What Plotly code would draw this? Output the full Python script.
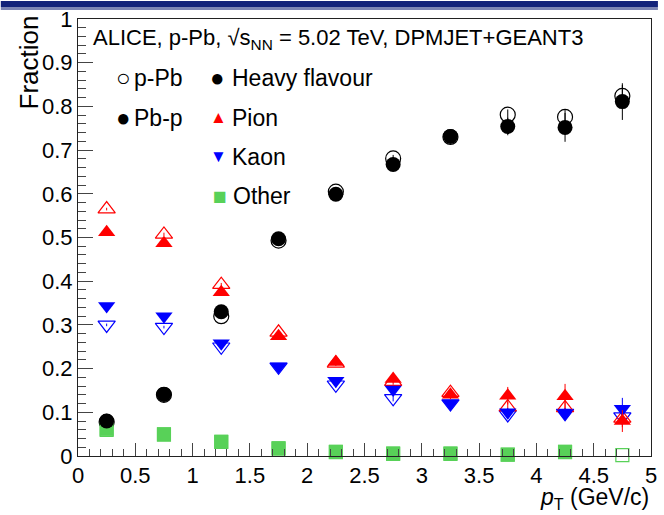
import plotly.graph_objects as go

pt = [0.25, 0.75, 1.25, 1.75, 2.25, 2.75, 3.25, 3.75, 4.25, 4.75]

hf_pbp = [0.080, 0.141, 0.330, 0.497, 0.599, 0.667, 0.731, 0.754, 0.752, 0.811]
hf_ppb = [0.078, 0.140, 0.320, 0.493, 0.605, 0.681, 0.730, 0.781, 0.776, 0.824]
hf_pbp_err = [0.003, 0.004, 0.005, 0.006, 0.007, 0.009, 0.012, 0.020, 0.033, 0.042]
hf_ppb_err = [0.003, 0.004, 0.005, 0.006, 0.007, 0.008, 0.010, 0.012, 0.018, 0.025]

pi_pbp = [0.512, 0.487, 0.375, 0.274, 0.215, 0.176, 0.140, 0.138, 0.137, 0.080]
pi_ppb = [0.565, 0.507, 0.392, 0.283, 0.212, 0.170, 0.145, 0.112, 0.110, 0.086]
pi_pbp_err = [0.003, 0.004, 0.004, 0.005, 0.006, 0.008, 0.010, 0.020, 0.028, 0.025]
pi_ppb_err = [0.003, 0.004, 0.004, 0.005, 0.006, 0.007, 0.009, 0.012, 0.016, 0.020]

k_pbp = [0.343, 0.320, 0.258, 0.205, 0.172, 0.152, 0.120, 0.100, 0.098, 0.108]
k_ppb = [0.300, 0.295, 0.250, 0.204, 0.163, 0.132, 0.120, 0.095, 0.098, 0.090]
k_pbp_err = [0.003, 0.003, 0.004, 0.005, 0.006, 0.007, 0.008, 0.010, 0.012, 0.025]
k_ppb_err = [0.003, 0.003, 0.004, 0.005, 0.006, 0.007, 0.008, 0.010, 0.012, 0.018]

oth_pbp = [0.062, 0.050, 0.033, 0.018, 0.010, 0.006, 0.006, 0.003, 0.010, None]
oth_ppb = [0.060, 0.049, 0.032, 0.017, 0.009, 0.005, 0.005, 0.003, 0.009, 0.002]

RED = "#ff0000"
BLUE = "#0000ff"
GREEN = "#58d158"
BLACK = "#000000"

fig = go.Figure()

def add(y, err, symbol, color, size, open_=False):
    fig.add_trace(go.Scatter(
        x=pt, y=y, mode="markers",
        marker=dict(symbol=symbol, size=size, color=color,
                    line=dict(width=1.2 if open_ else 0, color=color)),
        error_y=dict(type="data", array=err, visible=err is not None,
                     color=color, thickness=1, width=0),
        showlegend=False, cliponaxis=False))

# p-Pb (open) first, then Pb-p (filled) on top
add(oth_ppb, None, "square-open", GREEN, 13, True)
add(k_ppb, k_ppb_err, "triangle-down-open", BLUE, 15, True)
add(pi_ppb, pi_ppb_err, "triangle-up-open", RED, 15, True)
add(hf_ppb, hf_ppb_err, "circle-open", BLACK, 15, True)
add(oth_pbp, None, "square", GREEN, 14)
add(k_pbp, k_pbp_err, "triangle-down", BLUE, 15)
add(pi_pbp, pi_pbp_err, "triangle-up", RED, 15)
add(hf_pbp, hf_pbp_err, "circle", BLACK, 15)

FONT = "Liberation Sans, Arial, Helvetica, sans-serif"

W, H = 664, 515
ML, MR, MT, MB = 78, 7, 18, 59
PW, PH = W - ML - MR, H - MT - MB

def px(x):
    return (x - ML) / PW

def py(y):
    return 1 - (y - MT) / PH

anns = []
def txt(x, y, s, size=20, color="black", xanchor="left", yanchor="middle", angle=0):
    anns.append(dict(x=px(x), y=py(y), xref="paper", yref="paper", text=s,
                     showarrow=False, xanchor=xanchor, yanchor=yanchor,
                     textangle=angle, font=dict(family=FONT, size=size, color=color)))

txt(91, 38, "ALICE, p-Pb, √s<sub>NN</sub> = 5.02 TeV, DPMJET+GEANT3", size=22)
txt(124, 77, "○", size=24, xanchor="center")
txt(133, 77, "p-Pb", size=23)
txt(124, 117, "●", size=24, xanchor="center")
txt(133, 117, "Pb-p", size=23)
txt(219, 77, "●", size=24, xanchor="center")
txt(232, 77, "Heavy flavour", size=23)
txt(220, 117, "▲", size=17, color=RED, xanchor="center")
txt(232, 117, "Pion", size=23)
txt(220, 156, "▼", size=17, color=BLUE, xanchor="center")
txt(232, 156, "Kaon", size=23)
txt(221, 195, "■", size=23, color=GREEN, xanchor="center")
txt(233, 195, "Other", size=23)

txt(28, 62, "Fraction", size=26, xanchor="center", angle=-90)
txt(657, 499, "<i>p</i><sub>T</sub> (GeV/c)", size=23, xanchor="right")
txt(2, 520, "ALI-PUB-84868", size=13, color="#9a9a9a")

shapes = [
    dict(type="rect", xref="paper", yref="paper", x0=px(0), x1=px(W),
         y0=py(0), y1=py(6), fillcolor="#13237a", line=dict(width=0), layer="above"),
    dict(type="rect", xref="paper", yref="paper", x0=px(0), x1=px(W),
         y0=py(6), y1=py(9), fillcolor="#7d86b4", line=dict(width=0), layer="above"),
]

axis_common = dict(
    showline=True, linecolor="#222222", linewidth=1, mirror=True,
    showgrid=False, zeroline=False, ticks="inside", tickcolor="#444444",
    tickfont=dict(family=FONT, size=22, color="black"),
)

fig.update_layout(
    width=W, height=H,
    margin=dict(l=ML, r=MR, t=MT, b=MB),
    paper_bgcolor="white", plot_bgcolor="white",
    xaxis=dict(range=[0, 5], dtick=0.5, ticklen=13, tickwidth=1,
               minor=dict(dtick=0.1, ticks="inside", ticklen=7, tickcolor="#444444"),
               **axis_common),
    yaxis=dict(range=[0, 1], dtick=0.1, ticklen=15, tickwidth=1,
               minor=dict(dtick=0.02, ticks="inside", ticklen=8, tickcolor="#444444"),
               **axis_common),
    annotations=anns, shapes=shapes, showlegend=False,
)

fig.write_html("out.html")
